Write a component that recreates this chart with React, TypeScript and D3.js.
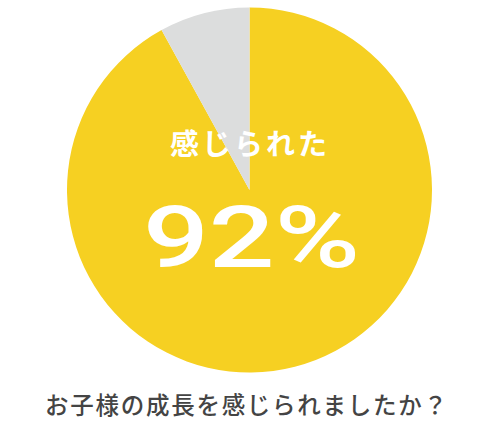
import React from "react";
import * as d3 from "d3";

const categories = ["感じられた", "感じられなかった"];
const values = [92, 8];
const colors = ["#F6D022", "#DCDDDD"];
const centerLabel = "感じられた";
const centerValue = "92%";
const title = "お子様の成長を感じられましたか？";

const W = 500;
const H = 426;

export default function App() {
  const cx = 249.5;
  const cy = 190;
  const r = 182.5;
  const pie = d3.pie<number>().sort(null).value((d) => d);
  const arcs = pie(values);
  const arc = d3.arc<d3.PieArcDatum<number>>().innerRadius(0).outerRadius(r);
  const color = d3.scaleOrdinal<string, string>().domain(categories).range(colors);

  return (
    <svg
      width={W}
      height={H}
      style={{ position: "absolute", left: 0, top: 0, background: "#fff" }}
    >
      <g transform={`translate(${cx},${cy})`}>
        {arcs.map((a, i) => (
          <path key={i} d={arc(a) || ""} fill={color(categories[i])} />
        ))}
      </g>
      <text
        x={248.5}
        y={155}
        textAnchor="middle"
        fill="#fff"
        fontFamily="'Noto Sans CJK JP', sans-serif"
        fontWeight={700}
        fontSize={29}
        textLength={157}
        lengthAdjust="spacing"
      >
        {centerLabel}
      </text>
      <text
        x={251.5}
        y={267}
        textAnchor="middle"
        fill="#fff"
        fontFamily="Roboto, 'DejaVu Sans', sans-serif"
        fontWeight={500}
        fontSize={85}
        textLength={217}
        lengthAdjust="spacingAndGlyphs"
      >
        {centerValue}
      </text>
      <text
        x={246}
        y={414}
        textAnchor="middle"
        fill="#444"
        fontFamily="'Noto Sans CJK JP', sans-serif"
        fontWeight={500}
        fontSize={23.5}
        textLength={402}
        lengthAdjust="spacing"
      >
        {title}
      </text>
    </svg>
  );
}
